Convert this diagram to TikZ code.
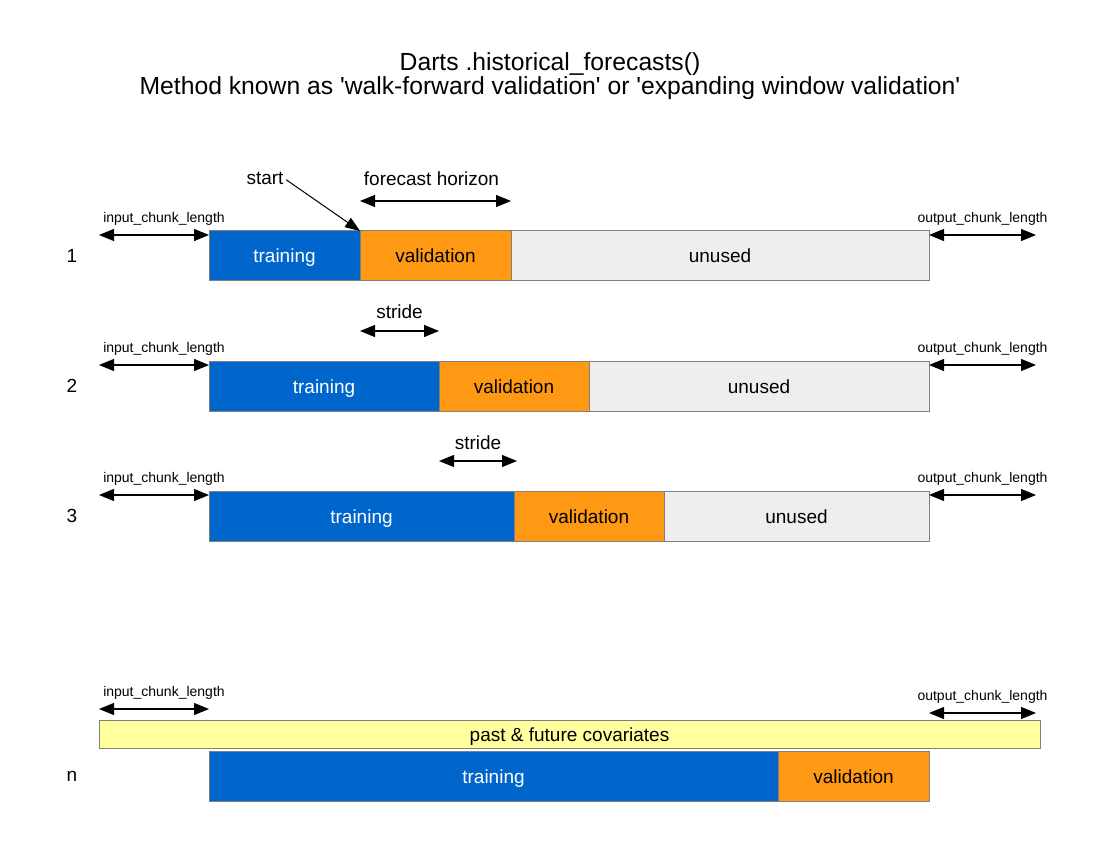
\documentclass[tikz,border=0pt]{standalone}
\usepackage{fontspec}
\setmainfont{Liberation Sans}
\usetikzlibrary{positioning,arrows.meta}

\definecolor{trainblue}{HTML}{0066CC}
\definecolor{validorange}{HTML}{FF9914}
\definecolor{unusedgray}{HTML}{EEEEEE}
\definecolor{covyellow}{HTML}{FFFF9E}
\definecolor{segline}{HTML}{808080}

\newcommand{\titlefont}{\fontsize{24.7}{24}\selectfont}
\newcommand{\midfont}{\fontsize{19}{22}\selectfont}
\newcommand{\smallfont}{\fontsize{14}{16}\selectfont}

\tikzset{
  seg/.style={draw=segline, line width=1pt, minimum height=50pt, inner sep=0pt, outer sep=0pt, text height=14pt, text depth=0pt, font=\midfont},
  train/.style={seg, fill=trainblue, text=white},
  valid/.style={seg, fill=validorange},
  unused/.style={seg, fill=unusedgray},
  span/.style={{Triangle[length=15pt,width=12pt]}-{Triangle[length=15pt,width=12pt]}, line width=1.2pt},
  lbl/.style={font=\smallfont, inner sep=0pt},
  mid/.style={font=\midfont, inner sep=0pt},
}

\begin{document}
\begin{tikzpicture}
[x=1pt,y=-1pt]
\useasboundingbox (0,0) rectangle (1100,850);

% title
\node [font=\titlefont, align=center] (title) at (550,76) {Darts .historical\_forecasts()\\Method known as \textquotesingle walk-forward validation\textquotesingle{} or \textquotesingle expanding window validation\textquotesingle};

% nodes 1
\node [mid] (r1) at (72,256) {1};
\node [train, minimum width=151pt, anchor=north west] (t1) at (209,231) {training};
\node [valid, minimum width=151pt, right=0pt of t1] (v1) {validation};
\node [unused, minimum width=418pt, right=0pt of v1] (u1) {unused};

% nodes 2
\node [mid] (r2) at (72,386) {2};
\node [train, minimum width=230pt, anchor=north west] (t2) at (209,361) {training};
\node [valid, minimum width=150pt, right=0pt of t2] (v2) {validation};
\node [unused, minimum width=340pt, right=0pt of v2] (u2) {unused};

% nodes 3
\node [mid] (r3) at (72,516) {3};
\node [train, minimum width=305pt, anchor=north west] (t3) at (209,491) {training};
\node [valid, minimum width=150pt, right=0pt of t3] (v3) {validation};
\node [unused, minimum width=265pt, right=0pt of v3] (u3) {unused};

% nodes n
\node [mid] (rn) at (72,776) {n};
\node [seg, fill=covyellow, minimum width=941pt, minimum height=28pt, anchor=north west] (cov) at (99,720) {past \& future covariates};
\node [train, minimum width=569pt, anchor=north west] (tn) at (209,751) {training};
\node [valid, minimum width=151pt, right=0pt of tn] (vn) {validation};

% coordinates
\coordinate (i1) at (99,235);
\coordinate (i2) at (99,365);
\coordinate (i3) at (99,495);
\coordinate (in) at (99,709);
\coordinate (o1) at (1036,235);
\coordinate (o2) at (1036,365);
\coordinate (o3) at (1036,495);
\coordinate (on) at (1036,713);
\coordinate (fh) at (360,201);
\coordinate (s2) at (360,331);
\coordinate (s3) at (439,461);

% arrows chunk lengths
\draw [span] (i1) -- node [lbl, above=9pt, xshift=10pt] {input\_chunk\_length} (i1 -| t1.west);
\draw [span] (i2) -- node [lbl, above=9pt, xshift=10pt] {input\_chunk\_length} (i2 -| t2.west);
\draw [span] (i3) -- node [lbl, above=9pt, xshift=10pt] {input\_chunk\_length} (i3 -| t3.west);
\draw [span] (in) -- node [lbl, above=9pt, xshift=10pt] {input\_chunk\_length} (in -| tn.west);
\draw [span] (o1 -| u1.east) -- node [lbl, above=9pt] {output\_chunk\_length} (o1);
\draw [span] (o2 -| u2.east) -- node [lbl, above=9pt] {output\_chunk\_length} (o2);
\draw [span] (o3 -| u3.east) -- node [lbl, above=9pt] {output\_chunk\_length} (o3);
\draw [span] (on -| vn.east) -- node [lbl, above=9pt] {output\_chunk\_length} (on);

% arrows horizon and stride
\draw [span] (fh) -- node [mid, above=15pt, xshift=-4pt] {forecast horizon} (fh -| v1.east);
\draw [span] (s2) -- node [mid, above=12pt] {stride} (s2 -| v2.west);
\draw [span] (s3) -- node [mid, above=11pt] {stride} (517,461);

% start
\node [mid] (start) at (265,178) {start};
\draw [-{Triangle[length=15pt,width=11pt]}, line width=1pt, shorten <=3pt] (start.east) -- (t1.north east);

\end{tikzpicture}
\end{document}
